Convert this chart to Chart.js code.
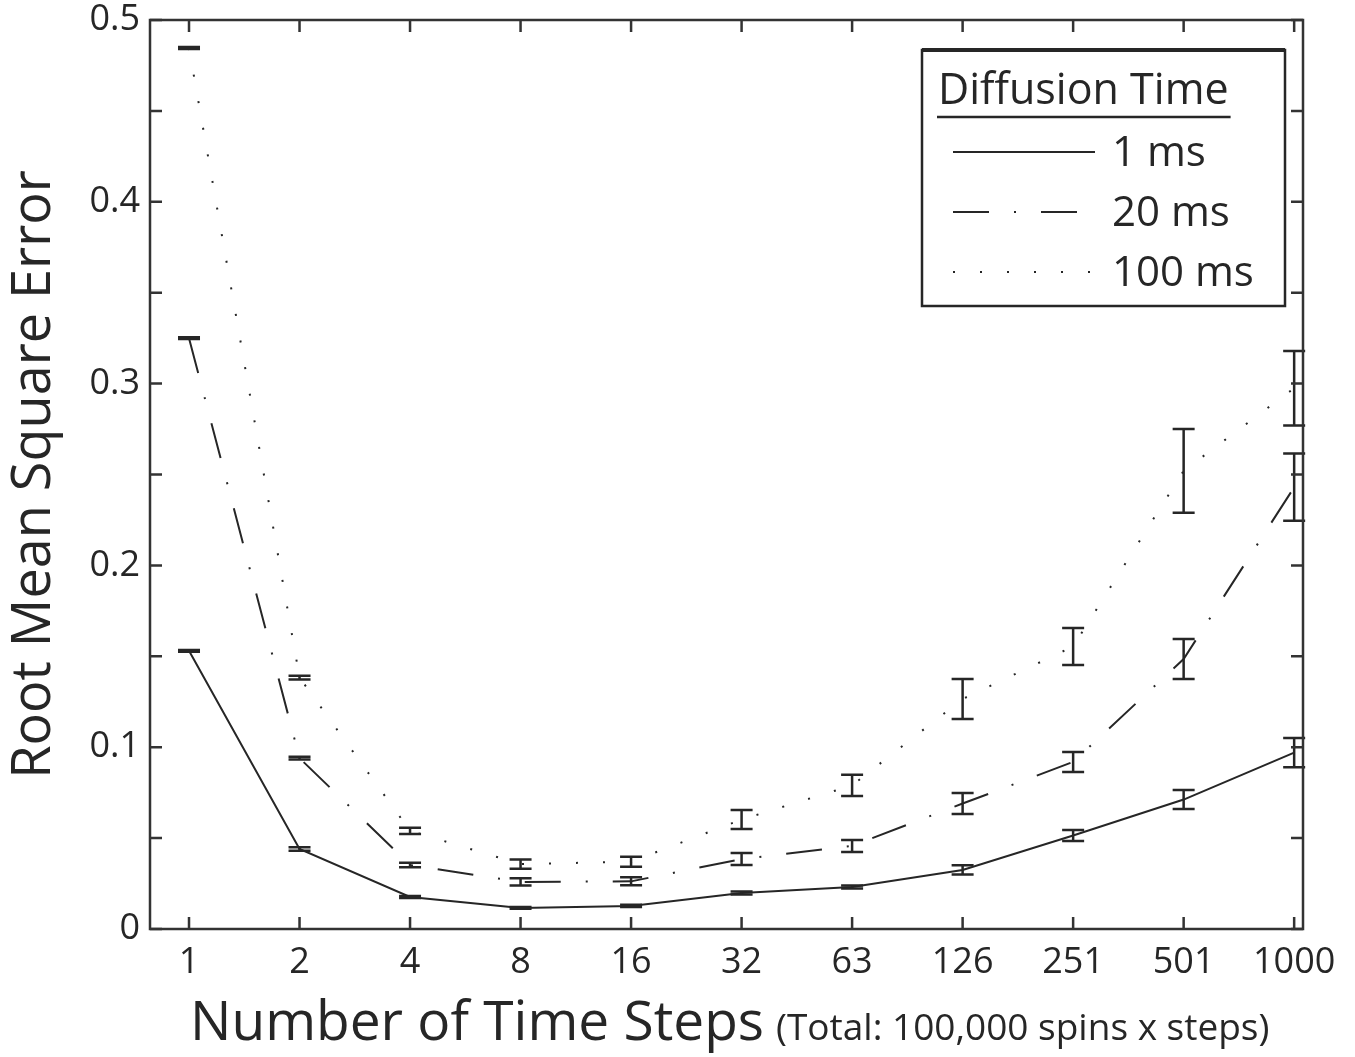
<!DOCTYPE html>
<html>
<head>
<meta charset="utf-8">
<title>RMSE vs time steps</title>
<script src="https://cdn.jsdelivr.net/npm/chart.js@4.4.1/dist/chart.umd.min.js"></script>
<style>
  html, body { margin: 0; padding: 0; background: #fff; }
  #wrap { width: 1355px; height: 1057px; }
</style>
</head>
<body>
<div id="wrap"><canvas id="rmseChart" width="1355" height="1057"></canvas></div>
<script>
// x categories (evenly spaced, log-like steps)
const stepLabels = ['1', '2', '4', '8', '16', '32', '63', '126', '251', '501', '1000'];

// mean RMSE and error bar half-widths
const rmse1ms   = [0.153, 0.044, 0.0176, 0.0116, 0.0127, 0.0198, 0.0231, 0.0325, 0.0514, 0.0712, 0.097];
const err1ms    = [0.0005, 0.001, 0.0005, 0.0005, 0.0006, 0.0008, 0.0008, 0.0025, 0.003, 0.0052, 0.008];
const rmse20ms  = [0.325, 0.094, 0.0352, 0.0259, 0.0262, 0.0385, 0.0457, 0.069, 0.0919, 0.1485, 0.243];
const err20ms   = [0.0005, 0.0008, 0.0012, 0.002, 0.0022, 0.0033, 0.0033, 0.0058, 0.0055, 0.011, 0.0185];
const rmse100ms = [0.4846, 0.1383, 0.054, 0.0357, 0.037, 0.0602, 0.079, 0.1265, 0.1554, 0.252, 0.2975];
const err100ms  = [0.0005, 0.001, 0.0017, 0.0025, 0.0028, 0.0052, 0.0058, 0.011, 0.0102, 0.023, 0.0205];

const seriesNames = ['1 ms', '20 ms', '100 ms'];
const yTickValues = [0, 0.05, 0.1, 0.15, 0.2, 0.25, 0.3, 0.35, 0.4, 0.45, 0.5];

const ink = '#262626';
const font = '"Open Sans", "DejaVu Sans", sans-serif';
const dashStyles = [[], [36, 25, 2, 25], [2, 25]];

function toPoints(vals) {
    return vals.map((v, i) => ({ x: i, y: v }));
}

// error bars, box with inward ticks, legend, x title
const decorations = {
    id: 'decorations',
    afterDatasetsDraw(chart) {
        const ctx = chart.ctx;
        const xs = chart.scales.x;
        const ys = chart.scales.y;
        const errs = [err1ms, err20ms, err100ms];
        ctx.save();
        ctx.strokeStyle = ink;
        ctx.lineWidth = 2.5;
        ctx.setLineDash([]);
        chart.data.datasets.forEach((ds, k) => {
            ds.data.forEach((p, i) => {
                const x = xs.getPixelForValue(p.x);
                const yT = ys.getPixelForValue(p.y + errs[k][i]);
                const yB = ys.getPixelForValue(p.y - errs[k][i]);
                ctx.beginPath();
                ctx.moveTo(x, yT); ctx.lineTo(x, yB);
                ctx.moveTo(x - 11, yT); ctx.lineTo(x + 11, yT);
                ctx.moveTo(x - 11, yB); ctx.lineTo(x + 11, yB);
                ctx.stroke();
            });
        });
        ctx.restore();
    },
    afterDraw(chart) {
        const ctx = chart.ctx;
        const ca = chart.chartArea;
        const xs = chart.scales.x;
        const ys = chart.scales.y;
        ctx.save();
        ctx.strokeStyle = '#333';
        ctx.lineWidth = 2.5;
        ctx.setLineDash([]);
        ctx.strokeRect(ca.left, ca.top, ca.right - ca.left, ca.bottom - ca.top);

        const tl = 12;
        ctx.beginPath();
        stepLabels.forEach((_, i) => {
            const x = xs.getPixelForValue(i);
            ctx.moveTo(x, ca.bottom); ctx.lineTo(x, ca.bottom - tl);
            ctx.moveTo(x, ca.top); ctx.lineTo(x, ca.top + tl);
        });
        yTickValues.forEach(v => {
            const y = ys.getPixelForValue(v);
            ctx.moveTo(ca.left, y); ctx.lineTo(ca.left + tl, y);
            ctx.moveTo(ca.right, y); ctx.lineTo(ca.right - tl, y);
        });
        ctx.stroke();

        // legend
        const lx = ca.right - 381, ly = ca.top + 30, lw = 363, lh = 256;
        ctx.fillStyle = '#fff';
        ctx.fillRect(lx, ly, lw, lh);
        ctx.strokeStyle = ink;
        ctx.lineWidth = 2.5;
        ctx.strokeRect(lx, ly, lw, lh);
        ctx.lineWidth = 4;
        ctx.beginPath(); ctx.moveTo(lx, ly); ctx.lineTo(lx + lw, ly); ctx.stroke();

        ctx.fillStyle = ink;
        ctx.textBaseline = 'alphabetic';
        ctx.textAlign = 'left';
        ctx.font = '43px ' + font;
        ctx.fillText('Diffusion Time', lx + 16, ly + 54);
        const tw = ctx.measureText('Diffusion Time').width;
        ctx.lineWidth = 2.5;
        ctx.beginPath(); ctx.moveTo(lx + 15, ly + 67); ctx.lineTo(lx + 18 + tw, ly + 67); ctx.stroke();

        ctx.font = '42px ' + font;
        ctx.textBaseline = 'middle';
        seriesNames.forEach((name, k) => {
            const y = ly + 102 + k * 60;
            ctx.setLineDash(dashStyles[k]);
            ctx.lineWidth = 2;
            ctx.beginPath(); ctx.moveTo(lx + 31, y); ctx.lineTo(lx + 173, y); ctx.stroke();
            ctx.setLineDash([]);
            ctx.fillText(name, lx + 190, y + 2);
        });

        // x axis title in two sizes
        ctx.textBaseline = 'alphabetic';
        ctx.font = '55px ' + font;
        const main = 'Number of Time Steps';
        ctx.fillText(main, 190, 1040);
        const mw = ctx.measureText(main).width;
        ctx.font = '37px ' + font;
        ctx.fillText('(Total: 100,000 spins x steps)', 190 + mw + 12, 1040);
        ctx.restore();
    }
};

const ctx = document.getElementById('rmseChart').getContext('2d');
const rmseChart = new Chart(ctx, {
    type: 'line',
    data: {
        datasets: [
            { label: seriesNames[0], data: toPoints(rmse1ms), borderDash: dashStyles[0] },
            { label: seriesNames[1], data: toPoints(rmse20ms), borderDash: dashStyles[1] },
            { label: seriesNames[2], data: toPoints(rmse100ms), borderDash: dashStyles[2] }
        ].map(ds => Object.assign(ds, {
            borderColor: ink,
            borderWidth: 2,
            pointRadius: 0,
            tension: 0,
            fill: false,
            borderCapStyle: 'butt'
        }))
    },
    options: {
        responsive: false,
        animation: false,
        layout: { padding: { top: 20, right: 52, left: 0, bottom: 0 } },
        plugins: {
            legend: { display: false },
            tooltip: { enabled: false }
        },
        scales: {
            x: {
                type: 'linear',
                min: -0.353,
                max: 10.08,
                afterBuildTicks: scale => { scale.ticks = stepLabels.map((_, i) => ({ value: i })); },
                afterFit: scale => { scale.height = 128; },
                grid: { display: false, drawTicks: false },
                border: { display: false },
                ticks: {
                    padding: 12,
                    color: ink,
                    font: { size: 36, family: font },
                    maxRotation: 0,
                    autoSkip: false,
                    callback: v => stepLabels[v]
                }
            },
            y: {
                min: 0,
                max: 0.5,
                afterBuildTicks: scale => { scale.ticks = yTickValues.map(v => ({ value: v })); },
                afterFit: scale => {
                    scale.width = 150;
                    scale.paddingTop = 0;
                    scale.paddingBottom = 0;
                },
                grid: { display: false, drawTicks: false },
                border: { display: false },
                ticks: {
                    padding: 10,
                    color: ink,
                    font: { size: 36, family: font },
                    autoSkip: false,
                    callback: v => {
                        const k = Math.round(v * 100);
                        if (k % 10 !== 0) return '';
                        return k === 0 ? '0' : (k / 100).toFixed(1);
                    }
                },
                title: {
                    display: true,
                    text: 'Root Mean Square Error',
                    color: ink,
                    font: { size: 54, family: font },
                    padding: { top: 2, bottom: 0 }
                }
            }
        }
    },
    plugins: [decorations]
});
</script>
</body>
</html>
